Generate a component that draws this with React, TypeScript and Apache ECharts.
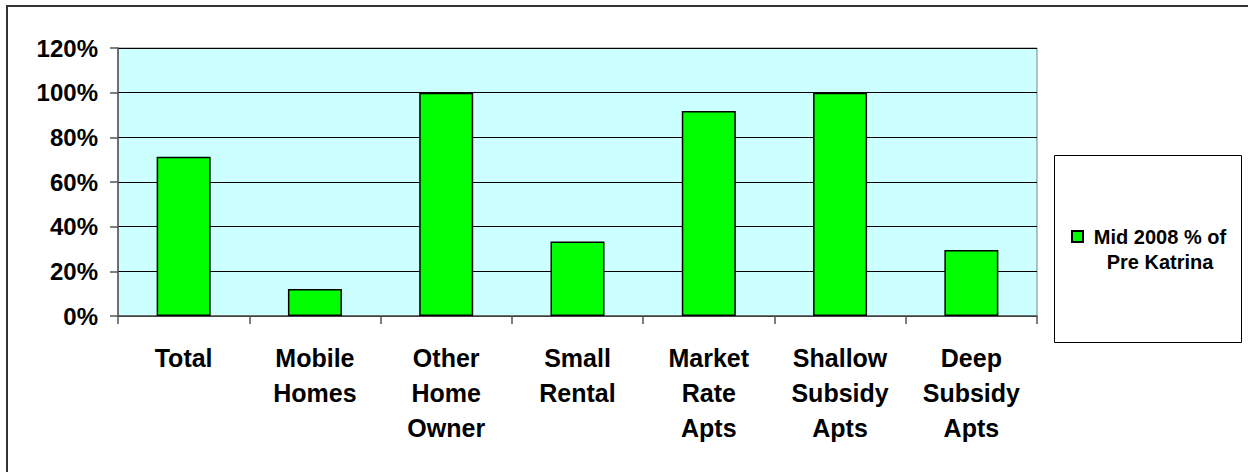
import React, { useEffect, useRef } from "react";
import * as echarts from "echarts";

const categories = [
  "Total",
  "Mobile\nHomes",
  "Other\nHome\nOwner",
  "Small\nRental",
  "Market\nRate\nApts",
  "Shallow\nSubsidy\nApts",
  "Deep\nSubsidy\nApts",
];
const values = [71.3, 12.1, 100, 33.4, 91.8, 100, 29.6];
const seriesName = "Mid 2008 % of Pre Katrina";
const legendLines = ["Mid 2008 % of", "Pre Katrina"];
const yTicks = { min: 0, max: 120, interval: 20 };

const FONT = "'Liberation Sans', Arial, sans-serif";

export default function App() {
  const ref = useRef<HTMLDivElement>(null);
  useEffect(() => {
    if (!ref.current) return;
    const chart = echarts.init(ref.current, undefined, { renderer: "svg" });
    chart.setOption({
      animation: false,
      backgroundColor: "#ffffff",
      grid: {
        left: 118,
        right: 211,
        top: 48,
        bottom: 156,
        show: true,
        backgroundColor: "#CCFFFF",
        borderColor: "#808080",
        borderWidth: 1,
      },
      legend: {
        left: 1071,
        top: 199,
        orient: "vertical",
        itemWidth: 11,
        itemHeight: 11,
        itemGap: 0,
        icon: "rect",
        padding: 0,
        formatter: () =>
          "{b| }\n{a|" + legendLines[0] + "}\n{a|" + legendLines[1] + "}",
        textStyle: {
          fontFamily: FONT,
          fontWeight: "bold",
          fontSize: 20,
          color: "#000",
          lineHeight: 25,
          rich: {
            a: {
              fontFamily: FONT,
              fontWeight: "bold",
              fontSize: 20,
              color: "#000",
              lineHeight: 25,
              width: 144,
              align: "center",
            },
            b: {
              fontSize: 20,
              lineHeight: 25,
              width: 144,
            },
          },
        },
        data: [seriesName],
      },
      xAxis: {
        type: "category",
        data: categories,
        axisLine: { lineStyle: { color: "#555", width: 1.5 } },
        axisTick: { show: true, length: 8, lineStyle: { color: "#555", width: 1.5 } },
        axisLabel: {
          interval: 0,
          margin: 24,
          fontFamily: FONT,
          fontWeight: "bold",
          fontSize: 25,
          lineHeight: 35,
          color: "#000",
        },
        splitLine: { show: false },
      },
      yAxis: {
        type: "value",
        min: yTicks.min,
        max: yTicks.max,
        interval: yTicks.interval,
        axisLine: { show: true, lineStyle: { color: "#555", width: 1.5 } },
        axisTick: { show: true, length: 8, lineStyle: { color: "#555", width: 1.5 } },
        axisLabel: {
          formatter: "{value}%",
          margin: 20,
          fontFamily: FONT,
          fontWeight: "bold",
          fontSize: 24,
          color: "#000",
        },
        splitLine: { show: true, lineStyle: { color: "#000", width: 1 } },
      },
      series: [
        {
          name: seriesName,
          type: "bar",
          data: values,
          barWidth: 54,
          itemStyle: { color: "#00FF00", borderColor: "#000", borderWidth: 1.5 },
        },
      ],
      graphic: [
        {
          type: "rect",
          shape: { x: 7, y: 6, width: 1400, height: 600 },
          style: { fill: "none", stroke: "#333", lineWidth: 2 },
          silent: true,
        },
        {
          type: "rect",
          shape: { x: 1054.5, y: 155.5, width: 187, height: 187 },
          style: { fill: "none", stroke: "#000", lineWidth: 1 },
          silent: true,
        },
      ],
    });
    return () => chart.dispose();
  }, []);
  return (
    <div
      ref={ref}
      style={{ position: "absolute", left: 0, top: 0, width: 1248, height: 472 }}
    />
  );
}
